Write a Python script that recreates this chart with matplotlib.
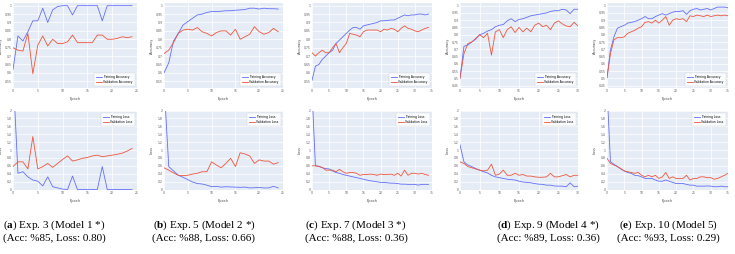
import numpy as np
import matplotlib.pyplot as plt
from matplotlib.ticker import MultipleLocator, FuncFormatter

# ---- training histories ----
acc_train_a = [0.62, 0.82, 0.79, 0.845, 0.91, 0.91, 0.985, 0.90, 0.975, 0.995, 1.0, 1.0, 0.945,
               1.0, 1.0, 1.0, 1.0, 1.0, 0.91, 1.0, 1.0, 1.0, 1.0, 1.0, 1.0]
acc_val_a = [0.75, 0.735, 0.73, 0.835, 0.595, 0.765, 0.82, 0.76, 0.80, 0.775, 0.775, 0.785, 0.825,
             0.78, 0.78, 0.78, 0.78, 0.825, 0.825, 0.80, 0.80, 0.805, 0.815, 0.81, 0.815]
loss_train_a = [3.0, 0.41, 0.45, 0.32, 0.24, 0.21, 0.09, 0.32, 0.07, 0.04, 0.01, 0.0, 0.34,
                0.0, 0.0, 0.0, 0.0, 0.0, 0.58, 0.0, 0.0, 0.0, 0.0, 0.0, 0.0]
loss_val_a = [0.58, 0.70, 0.70, 0.52, 1.34, 0.52, 0.58, 0.66, 0.56, 0.66, 0.76, 0.85, 0.72,
              0.75, 0.79, 0.81, 0.85, 0.87, 0.83, 0.85, 0.87, 0.89, 0.92, 0.97, 1.04]

acc_train_b = [0.60, 0.66, 0.79, 0.835, 0.885, 0.905, 0.925, 0.945, 0.95, 0.96, 0.965, 0.965,
               0.967, 0.97, 0.97, 0.973, 0.975, 0.977, 0.985, 0.985, 0.98, 0.985, 0.982, 0.982, 0.98]
acc_val_b = [0.715, 0.735, 0.78, 0.835, 0.855, 0.86, 0.855, 0.87, 0.845, 0.835, 0.82, 0.84, 0.85,
             0.85, 0.825, 0.86, 0.80, 0.815, 0.83, 0.875, 0.845, 0.83, 0.84, 0.865, 0.845]
loss_train_b = [2.7, 0.58, 0.47, 0.36, 0.31, 0.25, 0.19, 0.15, 0.14, 0.11, 0.07, 0.08, 0.06,
                0.07, 0.065, 0.06, 0.055, 0.06, 0.04, 0.045, 0.05, 0.04, 0.04, 0.08, 0.04]
loss_val_b = [0.55, 0.49, 0.42, 0.36, 0.35, 0.36, 0.39, 0.41, 0.45, 0.45, 0.70, 0.62, 0.55,
              0.66, 0.79, 0.58, 0.93, 0.90, 0.85, 0.66, 0.75, 0.72, 0.72, 0.64, 0.68]

acc_train_c = [0.555, 0.64, 0.65, 0.68, 0.70, 0.72, 0.735, 0.775, 0.795, 0.815, 0.835, 0.855,
               0.87, 0.87, 0.86, 0.88, 0.885, 0.89, 0.895, 0.90, 0.91, 0.91, 0.912, 0.915,
               0.915, 0.925, 0.935, 0.945, 0.94, 0.945, 0.945, 0.95, 0.95, 0.945, 0.95]
acc_val_c = [0.72, 0.70, 0.72, 0.735, 0.72, 0.72, 0.75, 0.775, 0.72, 0.75, 0.775, 0.835, 0.83,
             0.825, 0.815, 0.845, 0.855, 0.855, 0.855, 0.855, 0.845, 0.86, 0.855, 0.865, 0.86,
             0.845, 0.865, 0.88, 0.865, 0.86, 0.85, 0.845, 0.855, 0.865, 0.87]
loss_train_c = [2.5, 0.60, 0.59, 0.55, 0.53, 0.52, 0.47, 0.43, 0.41, 0.38, 0.36, 0.34, 0.32,
                0.30, 0.28, 0.26, 0.24, 0.22, 0.21, 0.195, 0.18, 0.18, 0.17, 0.16, 0.16, 0.15,
                0.135, 0.135, 0.13, 0.13, 0.13, 0.11, 0.13, 0.13, 0.13]
loss_val_c = [0.60, 0.60, 0.58, 0.56, 0.49, 0.49, 0.49, 0.45, 0.51, 0.45, 0.41, 0.43, 0.43,
              0.41, 0.36, 0.38, 0.38, 0.39, 0.38, 0.36, 0.39, 0.38, 0.38, 0.39, 0.36, 0.41,
              0.34, 0.49, 0.36, 0.41, 0.41, 0.39, 0.41, 0.38, 0.36]

acc_train_d = [0.50, 0.72, 0.73, 0.75, 0.77, 0.80, 0.81, 0.825, 0.835, 0.855, 0.865, 0.87, 0.895,
               0.91, 0.89, 0.905, 0.91, 0.92, 0.93, 0.935, 0.94, 0.945, 0.95, 0.96, 0.965,
               0.965, 0.975, 0.97, 0.945, 0.975, 0.975]
acc_val_d = [0.50, 0.67, 0.74, 0.75, 0.775, 0.80, 0.78, 0.81, 0.66, 0.82, 0.835, 0.78, 0.835,
             0.855, 0.815, 0.85, 0.82, 0.845, 0.82, 0.865, 0.88, 0.855, 0.865, 0.835, 0.88,
             0.895, 0.875, 0.86, 0.855, 0.885, 0.86]
loss_train_d = [1.13, 0.70, 0.62, 0.58, 0.53, 0.49, 0.45, 0.42, 0.36, 0.32, 0.30, 0.28, 0.26,
                0.25, 0.24, 0.21, 0.19, 0.18, 0.17, 0.15, 0.135, 0.13, 0.11, 0.11, 0.09, 0.085,
                0.085, 0.07, 0.17, 0.07, 0.085]
loss_val_d = [0.70, 0.66, 0.58, 0.55, 0.52, 0.49, 0.47, 0.49, 0.64, 0.36, 0.39, 0.49, 0.36,
              0.36, 0.41, 0.36, 0.38, 0.34, 0.34, 0.32, 0.31, 0.31, 0.32, 0.41, 0.32, 0.32,
              0.35, 0.38, 0.32, 0.36, 0.36]

acc_train_e = [0.505, 0.695, 0.785, 0.845, 0.855, 0.865, 0.88, 0.885, 0.89, 0.90, 0.91, 0.925,
               0.91, 0.91, 0.925, 0.935, 0.945, 0.935, 0.945, 0.955, 0.96, 0.96, 0.965, 0.94,
               0.965, 0.975, 0.98, 0.97, 0.975, 0.98, 0.97, 0.98, 0.99, 0.99, 0.99, 0.985]
acc_val_e = [0.505, 0.67, 0.765, 0.78, 0.78, 0.785, 0.81, 0.82, 0.83, 0.845, 0.855, 0.885, 0.89,
             0.88, 0.90, 0.88, 0.90, 0.925, 0.865, 0.90, 0.91, 0.905, 0.91, 0.89, 0.93, 0.925,
             0.935, 0.93, 0.925, 0.935, 0.925, 0.93, 0.935, 0.93, 0.935, 0.93]
loss_train_e = [2.56, 0.70, 0.64, 0.58, 0.52, 0.47, 0.43, 0.41, 0.36, 0.35, 0.32, 0.28, 0.28,
                0.28, 0.24, 0.21, 0.21, 0.24, 0.21, 0.18, 0.15, 0.15, 0.15, 0.13, 0.11, 0.11,
                0.085, 0.085, 0.085, 0.09, 0.085, 0.07, 0.07, 0.085, 0.07, 0.07]
loss_val_e = [0.79, 0.66, 0.62, 0.58, 0.53, 0.47, 0.45, 0.43, 0.41, 0.43, 0.36, 0.32, 0.36,
              0.32, 0.36, 0.28, 0.32, 0.43, 0.28, 0.32, 0.28, 0.28, 0.28, 0.36, 0.24, 0.28,
              0.28, 0.32, 0.32, 0.30, 0.30, 0.26, 0.28, 0.32, 0.36, 0.41]

panel_letters = ["a", "b", "c", "d", "e"]
caption_titles = ["Exp. 3 (Model 1 *)", "Exp. 5 (Model 2 *)", "Exp. 7 (Model 3 *)",
                  "Exp. 9 (Model 4 *)", "Exp. 10 (Model 5)"]
caption_scores = ["(Acc: %85, Loss: 0.80)", "(Acc: %88, Loss: 0.66)", "(Acc: %88, Loss: 0.36)",
                  "(Acc: %89, Loss: 0.36)", "(Acc: %93, Loss: 0.29)"]

# ---- layout (pixel boxes in the 735x254 figure) ----
W, H = 735, 254
col_x = [(13, 137), (164, 283), (312, 432), (460, 578), (607, 728)]
acc_ylim = [(0.51, 1.016), (0.51, 1.016), (0.51, 1.016), (0.434, 1.018), (0.434, 1.018)]
x_max = [25, 25, 35, 30, 35]
caption_cx = [54, 204, 356, 548, 668]

BG = "#E5ECF6"
BLUE = "#636EFA"
RED = "#EF553B"
TICK_FS = 2.2
LEG_FS = 2.2

plt.rcParams["mathtext.fontset"] = "custom"
plt.rcParams["mathtext.rm"] = "Liberation Serif"
plt.rcParams["mathtext.bf"] = "Liberation Serif:bold"


def box(x0, x1, y0, y1):
    return [x0 / W, 1 - y1 / H, (x1 - x0) / W, (y1 - y0) / H]


def style(ax, x0, x1, xmax, ylim, ystep, ylabel):
    ax.set_facecolor(BG)
    for s in ax.spines.values():
        s.set_visible(False)
    ax.set_xlim(0, xmax)
    ax.set_ylim(*ylim)
    ax.xaxis.set_major_locator(MultipleLocator(5))
    ax.yaxis.set_major_locator(MultipleLocator(ystep))
    ax.yaxis.set_major_formatter(FuncFormatter(lambda v, p: f"{round(v, 2):g}"))
    ax.grid(color="white", linewidth=0.5)
    ax.set_axisbelow(True)
    ax.tick_params(length=0, labelsize=TICK_FS, labelcolor="#555555", pad=0.8)
    ax.set_xlabel("Epoch", fontsize=TICK_FS + 0.3, color="#444444", labelpad=3)
    ax.set_ylabel(ylabel, fontsize=TICK_FS + 0.3, color="#444444")
    # y label sits about 10 px left of the plot area, clear of tick labels
    ax.yaxis.set_label_coords(-10.5 / (x1 - x0), 0.5)


def add_legend(ax, loc):
    leg = ax.legend(loc=loc, fontsize=LEG_FS, handlelength=1.8, handletextpad=0.5,
                    borderpad=0.6, labelspacing=0.35, fancybox=False, borderaxespad=0.8)
    leg.get_frame().set_linewidth(0.3)
    leg.get_frame().set_edgecolor("#cccccc")


fig = plt.figure(figsize=(W / 100, H / 100), dpi=100)

experiments = [
    (acc_train_a, acc_val_a, loss_train_a, loss_val_a),
    (acc_train_b, acc_val_b, loss_train_b, loss_val_b),
    (acc_train_c, acc_val_c, loss_train_c, loss_val_c),
    (acc_train_d, acc_val_d, loss_train_d, loss_val_d),
    (acc_train_e, acc_val_e, loss_train_e, loss_val_e),
]

for i, (atr, av, ltr, lv) in enumerate(experiments):
    x0, x1 = col_x[i]

    ax = fig.add_axes(box(x0, x1, 3, 88))
    ax.plot(np.arange(len(atr)), atr, color=BLUE, lw=0.6, label="Training Accuracy")
    ax.plot(np.arange(len(av)), av, color=RED, lw=0.6, label="Validation Accuracy")
    style(ax, x0, x1, x_max[i], acc_ylim[i], 0.05, "Accuracy")
    add_legend(ax, "lower right")

    ax = fig.add_axes(box(x0, x1, 110.5, 189.5))
    ax.plot(np.arange(len(ltr)), ltr, color=BLUE, lw=0.6, label="Training Loss")
    ax.plot(np.arange(len(lv)), lv, color=RED, lw=0.6, label="Validation Loss")
    style(ax, x0, x1, x_max[i], (0, 2), 0.2, "Loss")
    add_legend(ax, "upper right")

    cx = caption_cx[i] / W
    fig.text(cx, 1 - 225 / H, rf"($\mathbf{{{panel_letters[i]}}}$) {caption_titles[i]}",
             ha="center", va="center", fontsize=8, family="Liberation Serif")
    fig.text(cx, 1 - 238.5 / H, caption_scores[i],
             ha="center", va="center", fontsize=8, family="Liberation Serif")

fig.savefig("out.png", dpi=100)
